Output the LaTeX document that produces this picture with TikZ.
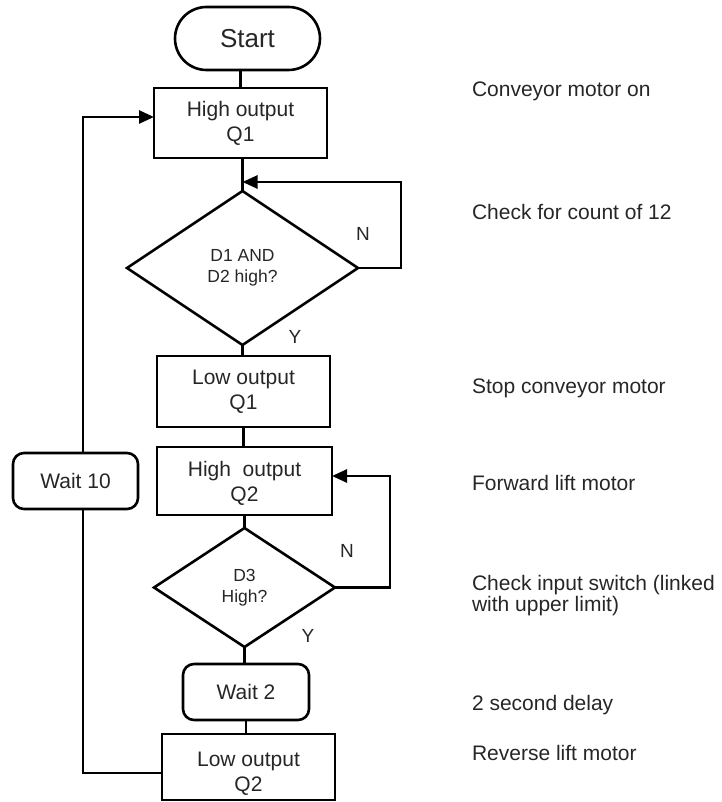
\documentclass[tikz,border=0pt]{standalone}
\usepackage{fontspec}
\setmainfont{Liberation Sans}
\usetikzlibrary{shapes.geometric,shapes.misc,arrows.meta}
\definecolor{txt}{RGB}{38,38,38}
\begin{document}
\begin{tikzpicture}[x=1pt,y=-1pt,
  line width=2.6pt,
  every node/.style={inner sep=0pt,outer sep=0pt,text=txt},
  procbox/.style={draw=black,rectangle,align=center,font=\fontsize{21}{25}\selectfont},
  waitbox/.style={draw=black,rectangle,rounded corners=11pt,align=center,font=\fontsize{21}{25}\selectfont},
  decbox/.style={draw=black,diamond,align=center,font=\fontsize{17.5}{21}\selectfont},
  yn/.style={font=\fontsize{19}{22}\selectfont},
  note/.style={anchor=base west,font=\fontsize{21}{21}\selectfont,align=left},
  arr/.style={-{Triangle[length=15pt,width=13pt]}}]
\useasboundingbox (0,0) rectangle (721,802);

% nodes
\node[rounded rectangle,draw=black,minimum width=145pt,minimum height=63pt,font=\fontsize{26}{30}\selectfont] (start) at (247.5,38.5) {Start};
\node[procbox,minimum width=173pt,minimum height=70pt] (b1) at (240.5,123) {High output\\Q1};
\node[decbox,minimum width=231pt,minimum height=154pt] (d1) at (242.5,268) {D1 AND\\D2 high?};
\node[procbox,minimum width=173pt,minimum height=71pt] (lq1) at (243.5,391.5) {Low output\\Q1};
\node[procbox,minimum width=175pt,minimum height=68pt] (hq2) at (244.5,481) {\rule{0pt}{19pt}High\ \ output\\Q2};
\node[decbox,minimum width=181pt,minimum height=119pt] (d2) at (244.5,587.5) {D3\\High?};
\node[waitbox,minimum width=126pt,minimum height=56pt] (w2) at (246,692) {Wait 2};
\node[procbox,minimum width=173pt,minimum height=66pt] (lq2) at (248.5,767) {\rule{0pt}{27pt}Low output\\Q2};
\node[waitbox,minimum width=125pt,minimum height=56pt] (w10) at (75.5,481) {Wait 10};

% Y/N labels
\node[yn] (n1) at (363,234) {N};
\node[yn] (y1) at (295,337) {Y};
\node[yn] (n2) at (347,551) {N};
\node[yn] (y2) at (308,636) {Y};

% comments
\node[note] (c1) at (472,97) {Conveyor motor on};
\node[note] (c2) at (472,220) {Check for count of 12};
\node[note] (c3) at (472,393) {Stop conveyor motor};
\node[note] (c4) at (472,490) {Forward lift motor};
\node[note,anchor=west] (c5) at (472,596) {Check input switch (linked\\with upper limit)};
\node[note] (c6) at (472,710) {2 second delay};
\node[note] (c7) at (472,760) {Reverse lift motor};

% connectors
\coordinate (j1) at (242.5,182);
\coordinate (r1) at (401,182);
\coordinate (r2) at (390,476);
\coordinate (cb) at (83,773);
\coordinate (ct) at (83,117);

\draw (b1.north) -- (b1.north |- start.south);
\draw (d1.north |- b1.south) -- (d1.north);
\draw[arr] (d1.east) -| (r1) -- (j1);
\draw (d1.south) -- (d1.south |- lq1.north);
\draw (lq1.south) -- (lq1.south |- hq2.north);
\draw (hq2.south) -- (hq2.south |- d2.north);
\draw[arr] (d2.east) -| (r2) -- (r2 -| hq2.east);
\draw (d2.south) -- (d2.south |- w2.north);
\draw (w2.south) -- (w2.south |- lq2.north);
\draw (lq2.west |- cb) -- (cb) -- (cb |- w10.south);
\draw[arr] (cb |- w10.north) -- (ct) -- (ct -| b1.west);
\end{tikzpicture}
\end{document}
